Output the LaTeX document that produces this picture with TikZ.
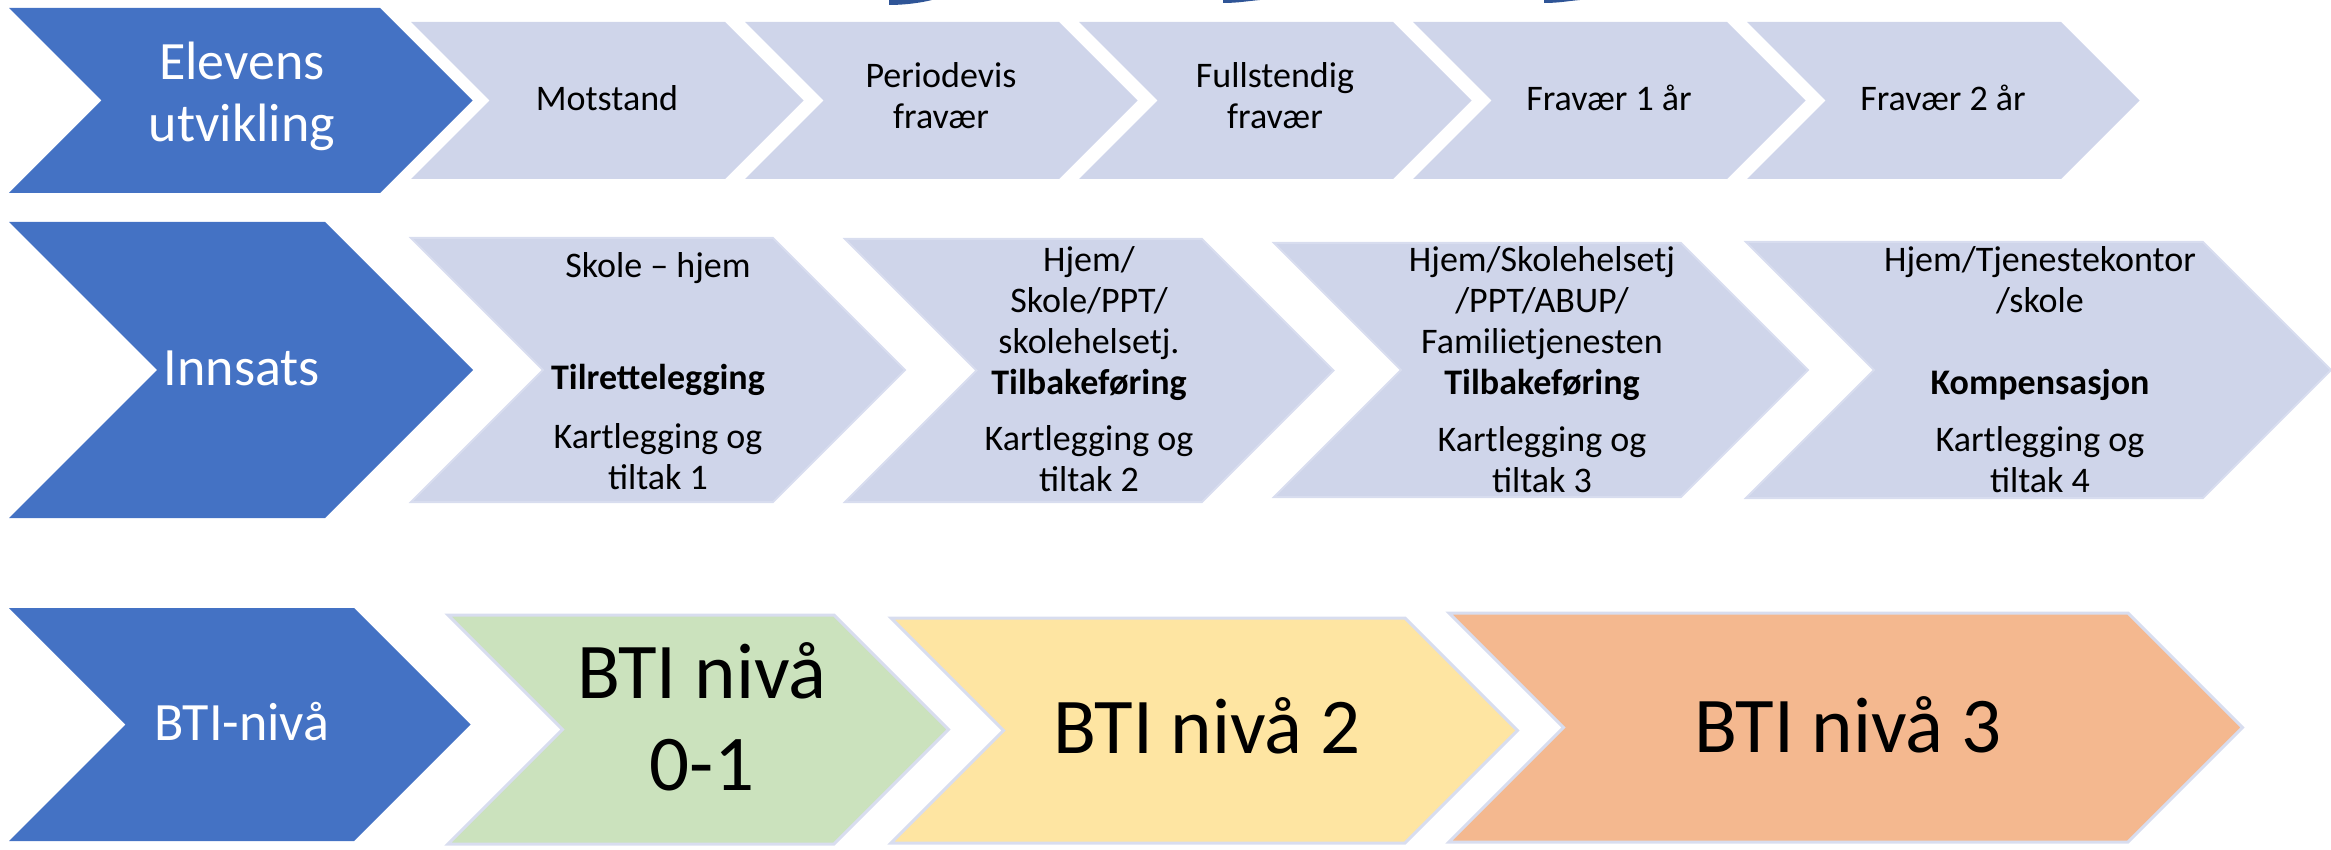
\documentclass[tikz,border=0pt]{standalone}
\usepackage{fontspec}
\setmainfont{Carlito}
\usepackage{tikz}

\definecolor{chevblue}{HTML}{4472C4}
\definecolor{chevlight}{HTML}{CFD5EA}
\definecolor{chevedge}{HTML}{D8DDEF}
\definecolor{btigreen}{HTML}{CBE2BD}
\definecolor{btiyellow}{HTML}{FEE5A2}
\definecolor{btiorange}{HTML}{F4B88F}
\definecolor{arcblue}{HTML}{2F5597}

% chevron: left, top, bottom, top right corner, style
\newcommand{\chevshape}[5]{%
	\path[#5] (#1,#2) -- (#4,#2) -- ({#4+(#3-#2)/2},{(#2+#3)/2}) -- (#4,#3)
		-- (#1,#3) -- ({#1+(#3-#2)/2},{(#2+#3)/2}) -- cycle;}

\begin{document}
\begin{tikzpicture}[x=0.5pt,y=-0.5pt,
		lbl/.style={anchor=north,inner sep=0pt,align=center,
			font=\fontsize{18}{20.5}\selectfont,execute at begin node=\strut},
		boldlbl/.style={anchor=base,inner sep=0pt,font=\fontsize{18}{20.5}\selectfont\bfseries},
		bluelbl/.style={lbl,text=white,font=\fontsize{27}{31}\selectfont},
		biglbl/.style={lbl,font=\fontsize{39.5}{46}\selectfont},
		lightbox/.style={fill=chevlight,draw=chevedge,line width=1pt},
		btibox/.style={fill=#1,draw=chevedge,line width=1.5pt}]
		\useasboundingbox (0,0) rectangle (2331,850);
		
		% cut off arcs at the top
		\foreach \a/\b/\h in {889/932/5,1223/1260/3,1544/1580/3}
			\fill[arcblue] (\a,0) -- (\a,\h) .. controls (\a+15,\h) and (\b-12,\h-2) .. (\b,0) -- cycle;
		
		% row 1
		\chevshape{9}{8}{193}{380}{fill=chevblue}
		\foreach \l in {411,745,1079,1413,1747}{
			\chevshape{\l}{22}{179}{\l+314}{fill=chevlight}
		}
		
		% row 2
		\chevshape{9}{222}{518}{325}{fill=chevblue}
		\chevshape{411}{238}{502}{773}{lightbox}
		\chevshape{845}{239}{502}{1202}{lightbox}
		\chevshape{1274}{243}{497}{1681}{lightbox}
		\chevshape{1746}{242}{498}{2203}{lightbox}
		
		% row 3
		\chevshape{9}{608}{841}{354}{fill=chevblue}
		\chevshape{448}{615}{844}{834}{btibox=btigreen}
		\chevshape{891}{618}{843}{1405}{btibox=btiyellow}
		\chevshape{1449}{613}{842}{2128}{btibox=btiorange}
		
		\node[bluelbl] (elevens) at (242,42){Elevens\\utvikling};
		\node[bluelbl] (innsats) at (242,342){Innsats};
		\node[bluelbl] (btiniva) at (242,697){BTI-nivå};
		
		\foreach \x/\y/\txt/\nm in {607/81/Motstand/motstand,941/62/{Periodevis\\fravær}/periodevis,
				1275/62/{Fullstendig\\fravær}/fullstendig,1609/81/{Fravær 1 år}/fravaer1,1943/81/{Fravær 2 år}/fravaer2}
			\node[lbl] (\nm) at (\x,\y){\txt};
		
		\node[lbl] (who1) at (658,248){Skole – hjem};
		\node[lbl] (who2) at (1089,246){Hjem/\\Skole/PPT/\\skolehelsetj.};
		\node[lbl] (who3) at (1542,246){Hjem/Skolehelsetj\\/PPT/ABUP/\\Familietjenesten};
		\node[lbl] (who4) at (2040,246){Hjem/Tjenestekontor\\/skole};
		
		\node[boldlbl] (tiltak1) at (658,390){Tilrettelegging};
		\node[boldlbl] (tiltak2) at (1089,394){Tilbakeføring};
		\node[boldlbl] (tiltak3) at (1542,394){Tilbakeføring};
		\node[boldlbl] (tiltak4) at (2040,394){Kompensasjon};
		
		\foreach \x/\y/\i in {658/423/1,1089/425/2,1542/426/3,2040/426/4}
			\node[lbl] (kart\i) at (\x,\y){Kartlegging og\\tiltak \i};
		
		\node[biglbl] (bti01) at (702,642){BTI nivå\\0-1};
		\node[biglbl] (bti2) at (1207,689){BTI nivå 2};
		\node[biglbl] (bti3) at (1848,688){BTI nivå 3};
	\end{tikzpicture}
\end{document}
